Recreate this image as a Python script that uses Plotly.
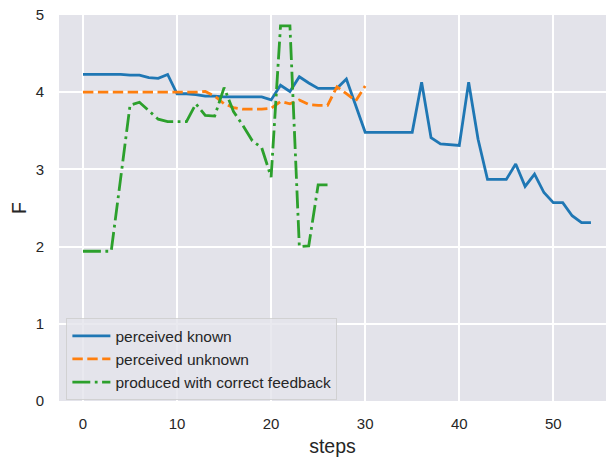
import plotly.graph_objects as go

# Step indices for each series
steps_known = list(range(55))
steps_unknown = list(range(31))
steps_feedback = list(range(27))

# F values per step
perceived_known = [
    4.23, 4.23, 4.23, 4.23, 4.23,
    4.22, 4.22, 4.19, 4.18, 4.23,
    3.98, 3.98, 3.97, 3.95, 3.95,
    3.94, 3.94, 3.94, 3.94, 3.94,
    3.90, 4.09, 4.01, 4.20, 4.12,
    4.05, 4.05, 4.05, 4.17, 3.83,
    3.48, 3.48, 3.48, 3.48, 3.48,
    3.48, 4.13, 3.41, 3.33, 3.32,
    3.31, 4.13, 3.39, 2.87, 2.87,
    2.87, 3.07, 2.78, 2.94, 2.70,
    2.57, 2.57, 2.40, 2.31, 2.31,
]
perceived_unknown = [
    4.0, 4.0, 4.0, 4.0, 4.0, 4.0, 4.0, 4.0, 4.0, 4.0,
    4.0, 4.0, 4.0, 4.01, 3.95, 3.85, 3.80, 3.78, 3.78, 3.78,
    3.79, 3.88, 3.85, 3.90, 3.84, 3.83, 3.83, 4.07, 3.98, 3.89,
    4.08,
]
produced_feedback = [
    1.94, 1.94, 1.94, 1.94, 2.88, 3.83, 3.87, 3.76, 3.65, 3.62,
    3.62, 3.62, 3.85, 3.70, 3.69, 4.06, 3.75, 3.57, 3.37, 3.28,
    2.90, 4.86, 4.86, 2.0, 2.01, 2.80, 2.80,
]

x_ticks = [0, 10, 20, 30, 40, 50]
y_ticks = [0, 1, 2, 3, 4, 5]

FONT = "Liberation Sans, Arial, sans-serif"
TEXT = "#262626"
LW = 2.8

fig = go.Figure()
fig.add_trace(go.Scatter(
    x=steps_known, y=perceived_known, mode="lines", name="perceived known",
    line=dict(color="#1f77b4", width=LW),
))
fig.add_trace(go.Scatter(
    x=steps_unknown, y=perceived_unknown, mode="lines", name="perceived unknown",
    line=dict(color="#ff7f0e", width=LW, dash="10.4px,4.5px"),
))
fig.add_trace(go.Scatter(
    x=steps_feedback, y=produced_feedback, mode="lines",
    name="produced with correct feedback",
    line=dict(color="#2ca02c", width=LW, dash="17.9px,4.5px,2.8px,4.5px"),
))

fig.update_layout(
    width=606, height=457,
    margin=dict(l=59, r=0, t=15, b=56),
    paper_bgcolor="white",
    plot_bgcolor="#E3E3EA",
    font=dict(family=FONT, color=TEXT, size=15),
    showlegend=True,
    legend=dict(
        x=0.0135, y=0.002, xanchor="left", yanchor="bottom",
        bgcolor="rgba(228,228,235,0.8)",
        bordercolor="rgba(204,204,204,0.8)", borderwidth=1,
        font=dict(family=FONT, size=15.5, color=TEXT),
        tracegroupgap=0, itemwidth=38,
    ),
)
fig.update_xaxes(
    range=[-2.55, 55.6], tickvals=x_ticks,
    showgrid=True, gridcolor="white", gridwidth=1.7,
    zeroline=False, showline=False,
    ticks="outside", ticklen=9, tickcolor="rgba(0,0,0,0)",
    tickfont=dict(size=15, color=TEXT),
    title=dict(text="steps", font=dict(size=19.5, color=TEXT), standoff=8),
)
fig.update_yaxes(
    range=[0, 5], tickvals=y_ticks,
    showgrid=True, gridcolor="white", gridwidth=1.7,
    zeroline=False, showline=False,
    ticks="outside", ticklen=11, tickcolor="rgba(0,0,0,0)",
    tickfont=dict(size=15, color=TEXT),
    title=dict(text="F", font=dict(size=19.5, color=TEXT), standoff=3),
)

fig.write_html("out.html")
